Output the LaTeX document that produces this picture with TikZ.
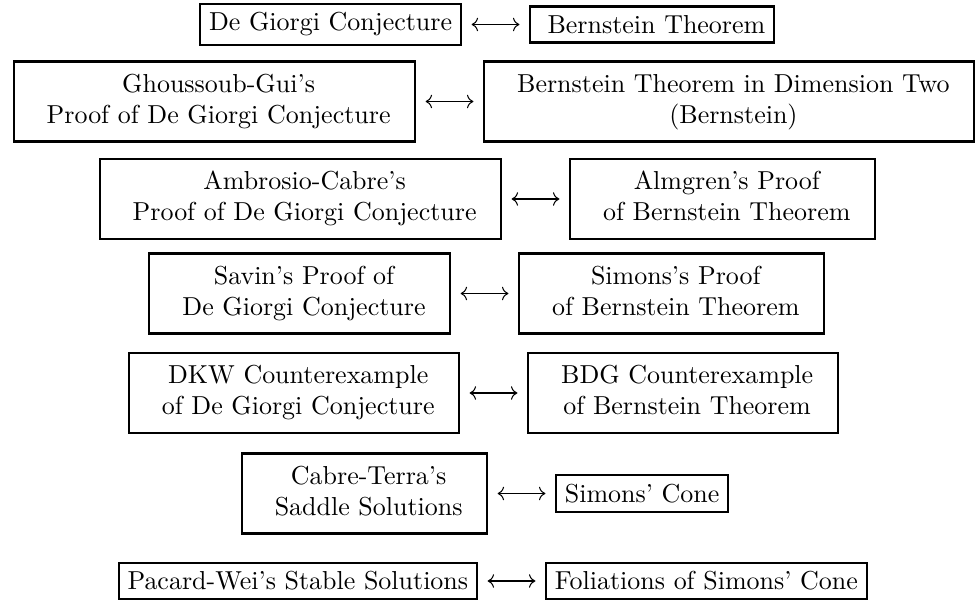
\documentclass[tikz,border=0pt]{standalone}
\usetikzlibrary{arrows.meta,positioning}
\newcommand{\twolines}[2]{\ \begin{tabular}{c}#1\\#2\end{tabular}\ }
\begin{document}
\begin{tikzpicture}[x=0.385pt, y=-0.385pt,
    box/.style={draw, line width=0.8pt, inner sep=3.4pt},
    link/.style={{Computer Modern Rightarrow}-{Computer Modern Rightarrow}, line width=0.4pt,
      shorten <=3.7pt, shorten >=3.7pt},
    node distance=25.8pt]
  \useasboundingbox (0,0) rectangle (977,600);
  % De Giorgi side on the left, Bernstein side on the right
  \node[box, anchor=east] (dgc) at (462,24.5) {De Giorgi Conjecture\ };
  \node[box, right=of dgc] (bth) {\ Bernstein Theorem};
  \node[box, anchor=east] (gg) at (416,101.5) {\twolines{Ghoussoub-Gui's}{Proof of De Giorgi Conjecture}};
  \node[box, right=of gg] (bdim) {\twolines{Bernstein Theorem in Dimension Two}{(Bernstein)}};
  \node[box, anchor=east] (ac) at (502,199) {\twolines{Ambrosio-Cabre's}{Proof of De Giorgi Conjecture}};
  \node[box, right=of ac] (alm) {\twolines{Almgren's Proof}{of Bernstein Theorem}};
  \node[box, anchor=east] (sav) at (451,293.5) {\twolines{Savin's Proof of}{De Giorgi Conjecture}};
  \node[box, right=of sav] (sim) {\twolines{Simons's Proof}{of Bernstein Theorem}};
  \node[box, anchor=east] (dkw) at (460,393) {\twolines{DKW Counterexample}{of De Giorgi Conjecture}};
  \node[box, right=of dkw] (bdg) {\twolines{BDG Counterexample}{of Bernstein Theorem}};
  \node[box, anchor=east] (ct) at (488,493.5) {\twolines{Cabre-Terra's}{Saddle Solutions}};
  \node[box, right=of ct] (cone) {Simons' Cone};
  \node[box, anchor=east] (pw) at (478,581) {Pacard-Wei's Stable Solutions\ };
  \node[box, right=of pw] (fol) {Foliations of Simons' Cone};
  % correspondences
  \foreach \a/\b in {dgc/bth, gg/bdim, ac/alm, sav/sim, dkw/bdg, ct/cone, pw/fol}
    \draw[link] (\a) -- (\b);
\end{tikzpicture}
\end{document}
